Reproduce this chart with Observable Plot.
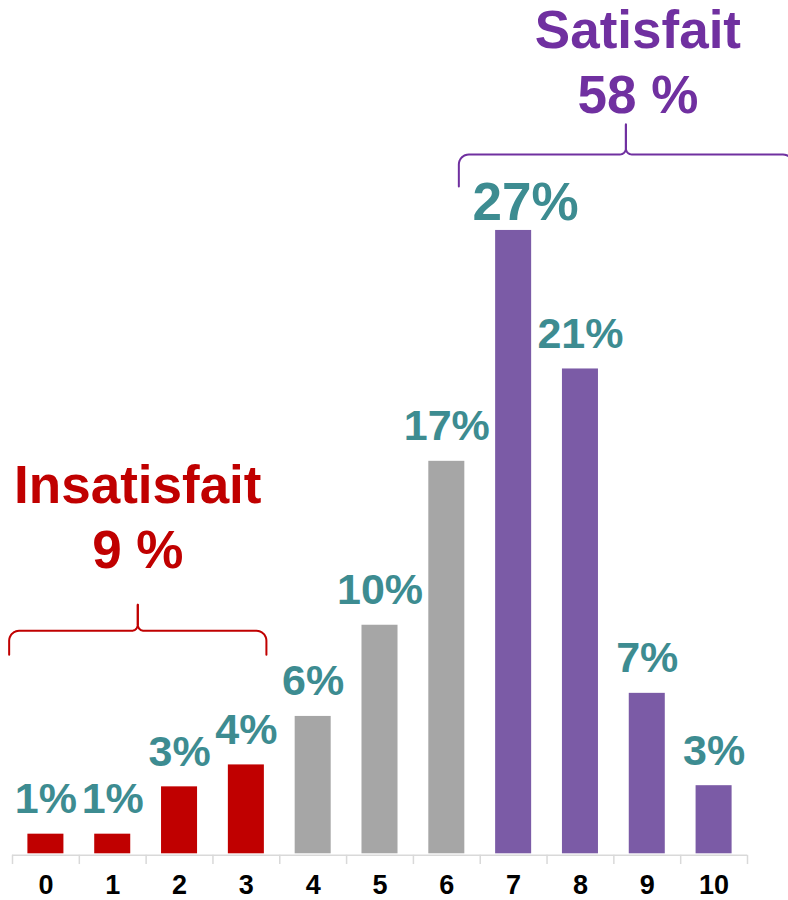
<!DOCTYPE html>
<html>
<head>
<meta charset="utf-8">
<script src="https://cdn.jsdelivr.net/npm/d3@7"></script>
<script src="https://cdn.jsdelivr.net/npm/@observablehq/plot@0.6"></script>
<style>
  html, body { margin: 0; padding: 0; background: #fff; overflow: hidden; }
  #chart { width: 788px; height: 900px; }
</style>
</head>
<body>
<div id="chart"></div>
<script>
// ---- Data ----
const categories = [0, 1, 2, 3, 4, 5, 6, 7, 8, 9, 10];
// bar heights (labels show the rounded value)
const values     = [0.85, 0.85, 2.9, 3.85, 5.95, 9.9, 17, 27, 21, 6.95, 2.95];
const groups     = ["Insatisfait", "Insatisfait", "Insatisfait", "Insatisfait",
                    "Neutre", "Neutre", "Neutre",
                    "Satisfait", "Satisfait", "Satisfait", "Satisfait"];
const groupNames  = ["Insatisfait", "Neutre", "Satisfait"];
const groupTotals = ["9 %", "", "58 %"];

// ---- Styles ----
const barColors   = ["#c00000", "#a6a6a6", "#7b5ba6"];
const labelColor  = "#3d8c91";
const annotColors = {"Insatisfait": "#c00000", "Satisfait": "#7030a0"};
const FONT = "'Liberation Sans', Arial, Helvetica, sans-serif";

const data = categories.map((c, i) => ({cat: c, value: values[i], group: groups[i]}));
const maxValue = d3.max(values);

// annotation placement (data units: x = category, y = percent)
const annotations = [
  {name: "Insatisfait", total: groupTotals[0], x1: -0.55, x2: 3.3, tip: 1.375, level: 9.66, end: 8.62, top: 10.79, tx: 1.375, ty: 12.4},
  {name: "Satisfait",   total: groupTotals[2], x1: 6.18,  x2: 11.18, tip: 8.68, level: 30.29, end: 28.9, top: 31.59, tx: 8.86, ty: 32.1}
];

// brace geometry: quarter-ellipse corners
function arc(a0, a1, n) {
  const out = [];
  for (let k = 0; k <= n; k++) {
    const t = a0 + (a1 - a0) * k / n;
    out.push([Math.cos(t), Math.sin(t)]);
  }
  return out;
}
function bracePoints(a) {
  const erx = 0.15, ery = 0.43, trx = 0.09, try_ = 0.26;
  const pts = [];
  const half = (sign, xe, id) => {
    const seq = [];
    seq.push([xe, a.end]);
    const cx = xe + sign * erx, cy = a.level - ery;
    arc(Math.PI, Math.PI / 2, 8).forEach(([u, v]) =>
      seq.push([cx + sign * erx * u, cy + ery * v]));
    const tcx = a.tip - sign * trx, tcy = a.level + try_;
    arc(-Math.PI / 2, 0, 8).forEach(([u, v]) =>
      seq.push([tcx + sign * trx * u, tcy + try_ * v]));
    seq.push([a.tip, a.top]);
    seq.forEach(([x, y]) => pts.push({x, y, side: id, name: a.name}));
  };
  half(1, a.x1, a.name + "-L");
  half(-1, a.x2, a.name + "-R");
  return pts;
}
const braceData = annotations.flatMap(bracePoints);

const boundaries = d3.range(-0.5, 11, 1);

const chart = Plot.plot({
  width: 788,
  height: 900,
  marginLeft: 12,
  marginRight: 41,
  marginTop: 0,
  marginBottom: 46.7,
  style: {fontFamily: FONT, background: "#fff", overflow: "visible"},
  x: {type: "linear", domain: [-0.5, 10.5], axis: null},
  y: {domain: [0, 36.96], axis: null},
  color: {domain: groupNames, range: barColors},
  marks: [
    Plot.rectY(data, {
      x1: d => d.cat - 0.5, x2: d => d.cat + 0.5, y: "value",
      insetLeft: 15.4, insetRight: 15.4, fill: "group"
    }),
    Plot.ruleY([0], {stroke: "#d9d9d9", strokeWidth: 1.5, dy: 1.5}),
    Plot.ruleX(boundaries, {y1: 0, y2: -0.4, stroke: "#d9d9d9", strokeWidth: 1.5, dy: 1.5}),
    Plot.axisX({ticks: categories, tickSize: 0, tickPadding: 21, fontSize: 27, fontWeight: "bold",
                fill: "#000", tickFormat: d => String(d)}),
    Plot.text(data.filter(d => d.value !== maxValue), {
      x: "cat", y: "value", text: d => `${Math.round(d.value)}%`, dy: -21,
      lineAnchor: "bottom", fontSize: 43, fontWeight: "bold", fill: labelColor
    }),
    Plot.text(data.filter(d => d.value === maxValue), {
      x: "cat", y: "value", text: d => `${Math.round(d.value)}%`, dy: -10, dx: 12,
      lineAnchor: "bottom", fontSize: 53, fontWeight: "bold", fill: labelColor
    }),
    Plot.line(braceData, {
      x: "x", y: "y", z: "side", stroke: d => annotColors[d.name],
      strokeWidth: 2, curve: "linear"
    }),
    Plot.text(annotations, {
      x: "tx", y: "ty", text: d => `${d.name}\n${d.total}`,
      lineAnchor: "bottom", lineHeight: 1.22, fontSize: 53, fontWeight: "bold",
      fill: d => annotColors[d.name]
    })
  ]
});
document.getElementById("chart").appendChild(chart);
</script>
</body>
</html>
